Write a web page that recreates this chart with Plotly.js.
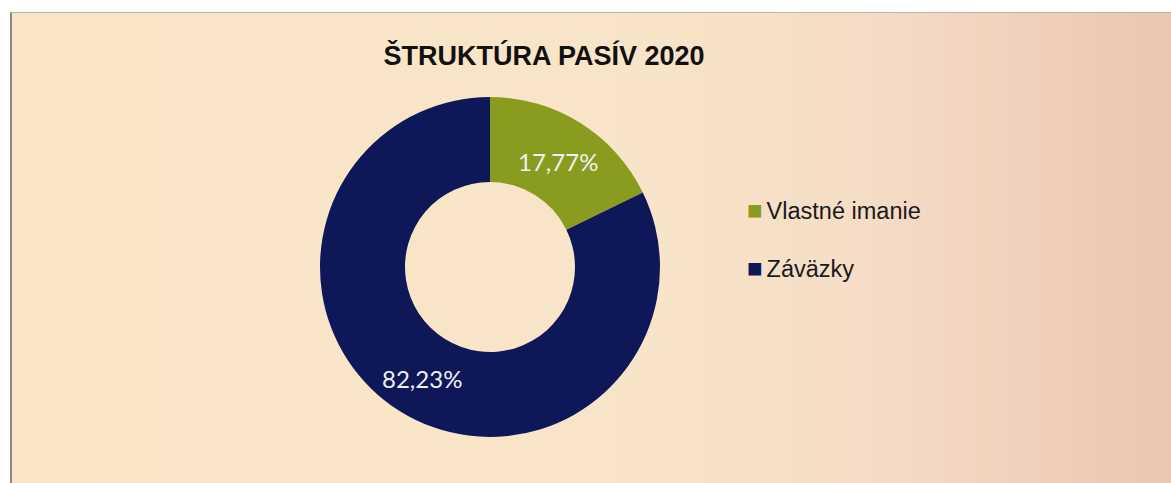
<!DOCTYPE html>
<html>
<head>
<meta charset="utf-8">
<script src="https://cdn.plot.ly/plotly-3.0.1.min.js"></script>
<style>
  html, body { margin:0; padding:0; background:#ffffff; }
  #wrap { position:relative; width:1171px; height:483px; overflow:hidden; background:#ffffff; }
  #frame { position:absolute; left:10px; top:12px; width:1200px; height:520px;
           border-left:2px solid #8d8a86; border-top:1px solid #b8b2aa;
           background: linear-gradient(to right, #f9e6c7 0%, #f8e5c9 50%, #f5dcc6 72%, #efcdb9 88%, #eac3b0 100%); }
  #chart { position:absolute; left:0; top:0; width:1171px; height:483px; }
</style>
</head>
<body>
<div id="wrap">
  <div id="frame"></div>
  <div id="chart"></div>
</div>
<script>
const chartTitle = 'ŠTRUKTÚRA PASÍV 2020';
const categories = ['Vlastné imanie', 'Záväzky'];
const values = [17.77, 82.23];
const colors = ['#8a9c1f', '#0e1757'];

const W = 1171, H = 483;
const cx = 490, cy = 267, R = 170, HOLE = 0.5;

const trace = {
  type: 'pie',
  labels: categories,
  values: values,
  hole: HOLE,
  sort: false,
  direction: 'clockwise',
  rotation: 0,
  marker: { colors: colors, line: { width: 0 } },
  textposition: 'none',
  hoverinfo: 'label+percent',
  showlegend: false,
  domain: {
    x: [(cx - R) / W, (cx + R) / W],
    y: [(H - (cy + R)) / H, (H - (cy - R)) / H]
  }
};

// slice value labels placed at the middle of each ring segment (computed from the data)
const total = values.reduce((a, b) => a + b, 0);
const rMid = R * (1 + HOLE) / 2;
let cum = 0;
const sliceLabels = values.map((v) => {
  const midFrac = (cum + v / 2) / total;
  cum += v;
  const ang = midFrac * 2 * Math.PI; // clockwise from 12 o'clock
  const px = cx + rMid * Math.sin(ang);
  const py = cy - rMid * Math.cos(ang);
  return {
    xref: 'paper', yref: 'paper',
    x: px / W, y: 1 - (py + 3) / H,
    xanchor: 'center', yanchor: 'middle',
    showarrow: false,
    text: v.toFixed(2).replace('.', ',') + '%',
    font: { family: 'Lato, "Open Sans", sans-serif', size: 24, color: '#eef0f6' }
  };
});

const legendY = [210, 268];
const legendAnn = categories.map((c, i) => ({
  xref: 'paper', yref: 'paper',
  x: 745 / W, y: 1 - legendY[i] / H,
  xanchor: 'left', yanchor: 'middle',
  showarrow: false,
  align: 'left',
  text: '<span style="color:' + colors[i] + ';font-size:26px">■</span><span style="font-size:14px"> </span>' + c,
  font: { family: '"Liberation Sans", Arial, sans-serif', size: 23.5, color: '#1a1a1a' }
}));

const layout = {
  width: W, height: H,
  margin: { l: 0, r: 0, t: 0, b: 0 },
  separators: ', ',
  paper_bgcolor: 'rgba(0,0,0,0)',
  plot_bgcolor: 'rgba(0,0,0,0)',
  title: {
    text: '<b>' + chartTitle + '</b>',
    x: 544 / W, xanchor: 'center', xref: 'paper',
    y: 1 - 56 / H, yanchor: 'middle', yref: 'paper',
    font: { family: '"Liberation Sans", Arial, sans-serif', size: 27, color: '#111111' }
  },
  annotations: sliceLabels.concat(legendAnn),
  showlegend: false
};

Plotly.newPlot('chart', [trace], layout, { displayModeBar: false, staticPlot: true });
</script>
</body>
</html>
